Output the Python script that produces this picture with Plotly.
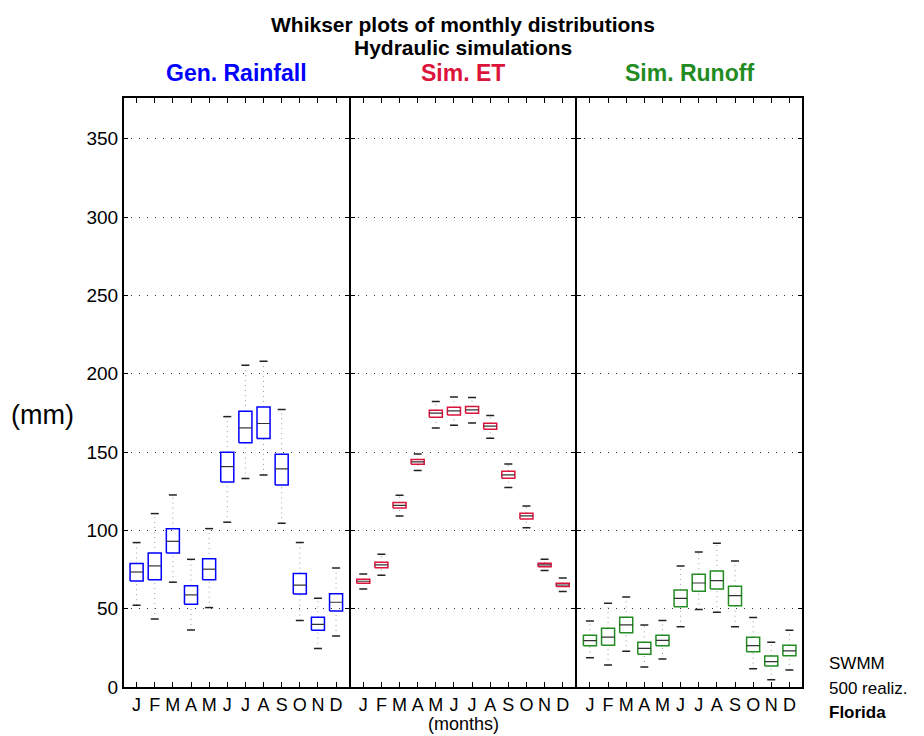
import plotly.graph_objects as go

months = ["J", "F", "M", "A", "M", "J", "J", "A", "S", "O", "N", "D"]
y_ticks = [0, 50, 100, 150, 200, 250, 300, 350]

# Monthly statistics per variable: lower whisker, Q1, median, Q3, upper whisker (mm)
rain_lo = [52.2, 43.4, 66.9, 36.4, 50.7, 105.2, 133.1, 135.4, 104.5, 42.4, 24.5, 32.6]
rain_q1 = [67.7, 68.5, 85.6, 52.8, 68.5, 130.9, 156.0, 158.6, 129.0, 59.4, 36.2, 48.5]
rain_med = [73.4, 77.3, 93.0, 58.8, 75.2, 140.7, 165.4, 168.2, 139.2, 65.0, 40.0, 54.1]
rain_q3 = [78.8, 85.6, 101.1, 64.7, 81.8, 149.9, 176.1, 178.8, 148.6, 72.4, 44.5, 59.6]
rain_hi = [92.2, 110.7, 122.6, 81.5, 101.1, 172.6, 205.4, 208.0, 177.1, 92.2, 56.6, 76.0]

et_lo = [62.6, 71.3, 109.2, 138.2, 165.4, 167.1, 168.6, 158.8, 127.3, 101.7, 74.3, 60.9]
et_q1 = [66.2, 76.2, 114.3, 142.2, 172.2, 173.7, 174.8, 164.6, 133.3, 107.3, 76.8, 64.1]
et_med = [67.5, 77.9, 116.0, 143.7, 174.8, 176.3, 176.9, 166.5, 135.4, 109.2, 77.9, 65.1]
et_q3 = [68.8, 79.6, 117.7, 145.2, 176.7, 178.6, 179.0, 168.4, 137.8, 110.9, 79.0, 66.2]
et_hi = [72.2, 84.7, 122.4, 148.8, 182.2, 185.2, 184.8, 173.3, 142.4, 115.6, 81.5, 69.6]

ro_lo = [18.7, 14.1, 22.8, 12.8, 17.9, 38.5, 49.4, 47.7, 38.5, 11.7, 4.7, 10.9]
ro_q1 = [26.4, 26.6, 34.7, 20.9, 26.4, 51.3, 61.1, 62.6, 51.9, 22.5, 13.4, 20.0]
ro_med = [29.6, 31.9, 39.6, 24.7, 29.8, 56.6, 66.4, 67.9, 58.3, 26.4, 16.2, 23.0]
ro_q3 = [33.0, 37.5, 44.5, 28.5, 33.0, 62.0, 72.0, 74.1, 64.3, 31.7, 19.8, 26.6]
ro_hi = [42.2, 53.4, 57.5, 39.6, 42.4, 77.3, 86.2, 91.8, 80.5, 44.3, 28.5, 36.2]

panels = [
    ("Gen. Rainfall", "#0000ff", rain_lo, rain_q1, rain_med, rain_q3, rain_hi),
    ("Sim. ET", "#dc143c", et_lo, et_q1, et_med, et_q3, et_hi),
    ("Sim. Runoff", "#228b22", ro_lo, ro_q1, ro_med, ro_q3, ro_hi),
]

BOX_HALF = 0.36
CAP_HALF = 0.22
FONT = "Liberation Sans, Arial, sans-serif"

fig = go.Figure()


def segs(pairs):
    xs, ys = [], []
    for (x0, y0, x1, y1) in pairs:
        xs += [x0, x1, None]
        ys += [y0, y1, None]
    return xs, ys


for i, (name, color, lo, q1, med, q3, hi) in enumerate(panels):
    xa = "x" if i == 0 else f"x{i + 1}"
    ya = "y" if i == 0 else f"y{i + 1}"
    pos = list(range(1, 13))

    # dotted whiskers
    wx, wy = segs([(p, q3[k], p, hi[k]) for k, p in enumerate(pos)] +
                  [(p, lo[k], p, q1[k]) for k, p in enumerate(pos)])
    fig.add_trace(go.Scatter(x=wx, y=wy, mode="lines", xaxis=xa, yaxis=ya,
                             line=dict(color="#9a9a9a", width=1, dash="1px,4px"),
                             hoverinfo="skip", showlegend=False))
    # whisker caps
    cx, cy = segs([(p - CAP_HALF, hi[k], p + CAP_HALF, hi[k]) for k, p in enumerate(pos)] +
                  [(p - CAP_HALF, lo[k], p + CAP_HALF, lo[k]) for k, p in enumerate(pos)])
    fig.add_trace(go.Scatter(x=cx, y=cy, mode="lines", xaxis=xa, yaxis=ya,
                             line=dict(color="#222222", width=1.5),
                             hoverinfo="skip", showlegend=False))
    # boxes
    bx, by = [], []
    for k, p in enumerate(pos):
        bx += [p - BOX_HALF, p + BOX_HALF, p + BOX_HALF, p - BOX_HALF, p - BOX_HALF, None]
        by += [q1[k], q1[k], q3[k], q3[k], q1[k], None]
    fig.add_trace(go.Scatter(x=bx, y=by, mode="lines", xaxis=xa, yaxis=ya,
                             line=dict(color=color, width=1.5),
                             hoverinfo="skip", showlegend=False))
    # medians
    mx, my = segs([(p - BOX_HALF, med[k], p + BOX_HALF, med[k]) for k, p in enumerate(pos)])
    fig.add_trace(go.Scatter(x=mx, y=my, mode="lines", xaxis=xa, yaxis=ya,
                             line=dict(color="#333333", width=1.2),
                             hoverinfo="skip", showlegend=False))

layout = dict(
    width=924, height=736,
    margin=dict(l=123, r=121, t=98, b=49),
    paper_bgcolor="white", plot_bgcolor="white",
    font=dict(family=FONT, color="black"),
    showlegend=False,
)
for i in range(3):
    sx = "" if i == 0 else str(i + 1)
    layout[f"xaxis{sx}"] = dict(
        showline=True, linecolor="black", linewidth=2, mirror="ticks",
        ticks="inside", ticklen=5, tickcolor="black", zeroline=False,
        domain=[i / 3, (i + 1) / 3], range=[0.25, 12.75],
        tickmode="array", tickvals=list(range(1, 13)), ticktext=months,
        tickfont=dict(size=18), showgrid=False,
        anchor="y" if i == 0 else f"y{i + 1}",
    )
    layout[f"yaxis{sx}"] = dict(
        showline=True, linecolor="black", linewidth=1, mirror="ticks",
        ticks="inside", ticklen=5, tickcolor="black", zeroline=False,
        range=[0, 376], tickmode="array", tickvals=y_ticks,
        showticklabels=(i == 0), tickfont=dict(size=19),
        showgrid=True, gridcolor="#333333", gridwidth=1, griddash="1px,7px",
        anchor="x" if i == 0 else f"x{i + 1}",
    )
fig.update_layout(**layout)

# heavier outer frame on the left and right edges
for xe in (0, 1):
    fig.add_shape(type="line", xref="paper", yref="paper", x0=xe, x1=xe, y0=0, y1=1,
                  line=dict(color="black", width=2))

ann = [
    dict(text="<b>Whikser plots of monthly distributions</b>", x=0.5, y=1.1256, size=21, color="black"),
    dict(text="<b>Hydraulic simulations</b>", x=0.5, y=1.085, size=21, color="black"),
]
for i, (name, color, *_rest) in enumerate(panels):
    ann.append(dict(text=f"<b>{name}</b>", x=(i + 0.5) / 3, y=1.0424, size=23, color=color))
for a in ann:
    fig.add_annotation(text=a["text"], xref="paper", yref="paper", x=a["x"], y=a["y"],
                       xanchor="center", yanchor="middle", showarrow=False,
                       font=dict(size=a["size"], color=a["color"], family=FONT))

fig.add_annotation(text="(mm)", xref="paper", yref="paper", x=-0.118, y=0.462,
                   xanchor="center", yanchor="middle", showarrow=False,
                   font=dict(size=27, family=FONT))
fig.add_annotation(text="(months)", xref="paper", yref="paper", x=0.5, y=-0.063,
                   xanchor="center", yanchor="middle", showarrow=False,
                   font=dict(size=18, family=FONT))
for txt, yy in [("SWMM", 0.040), ("500 realiz.", -0.0017), ("<b>Florida</b>", -0.043)]:
    fig.add_annotation(text=txt, xref="paper", yref="paper", x=1.035, y=yy,
                       xanchor="left", yanchor="middle", showarrow=False,
                       font=dict(size=17, family=FONT))

fig.write_html("out.html")
